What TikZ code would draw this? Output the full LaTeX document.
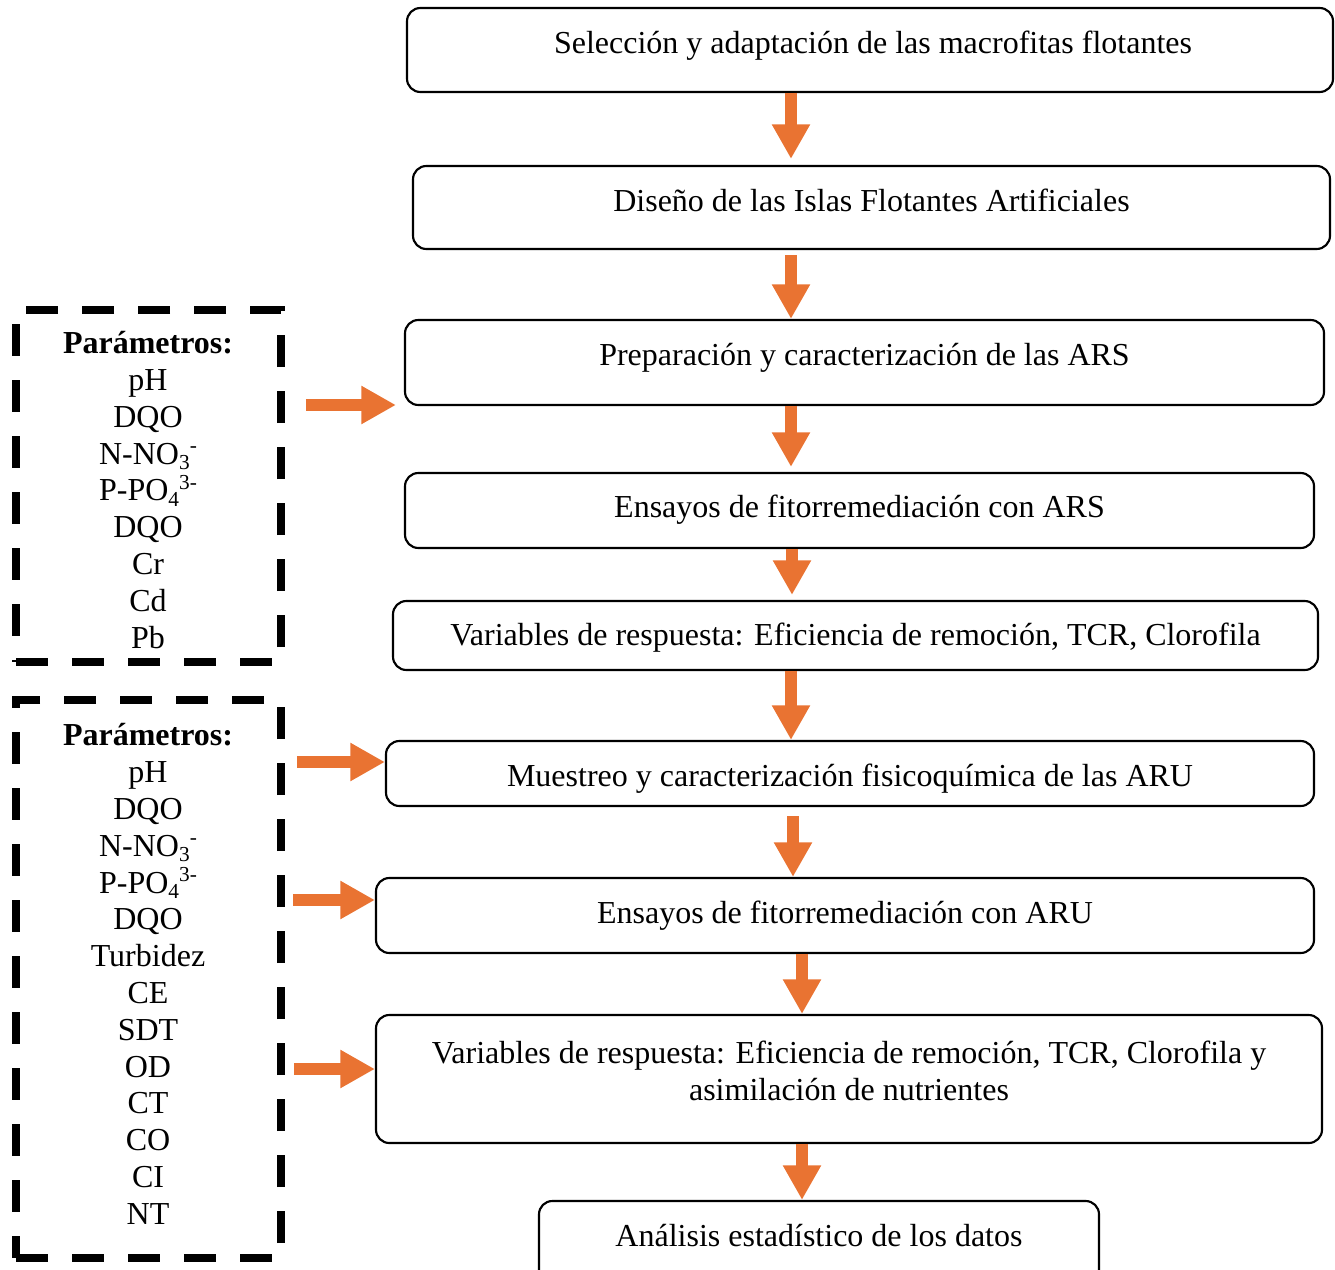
\documentclass[tikz,border=0pt]{standalone}
\usepackage{fontspec}
\setmainfont{Liberation Serif}
\usetikzlibrary{arrows.meta}
\definecolor{orng}{RGB}{233,115,50}
\newcommand\mysubs[1]{\raisebox{-0.16em}{\fontsize{16}{16}\selectfont #1}}
\newcommand\mysups[1]{\raisebox{0.36em}{\fontsize{16}{16}\selectfont #1}}
\tikzset{
  stepbox/.style={draw=black, line width=1.6pt, rounded corners=10pt, inner sep=0pt},
  steptext/.style={font=\fontsize{24}{27.6}\selectfont, inner sep=0pt, align=center},
  parbox/.style={draw=black, line width=5.8pt, dash pattern=on 24pt off 18pt, inner sep=0pt},
  partext/.style={font=\fontsize{24}{27.6}\selectfont, inner sep=0pt, align=center},
  oarrow/.style={draw=orng, line width=9pt, -{Triangle[width=27pt,length=26pt]}, orng},
}
\begin{document}
\begin{tikzpicture}[x=0.75pt, y=-0.75pt]
\useasboundingbox (0,0) rectangle (1335,1270);
\clip (0,0) rectangle (1335,1270);
% boxes
\node[stepbox, minimum width=694.5pt, minimum height=63pt] (b1) at (870,50) {};
\node[steptext] (t1) at (873,46) {Selección y adaptación de las macrofitas flotantes};
\node[stepbox, minimum width=687.75pt, minimum height=62.25pt] (b2) at (871.5,207.5) {};
\node[steptext] (t2) at (871.5,200) {Diseño de las Islas Flotantes Artificiales};
\node[stepbox, minimum width=689.25pt, minimum height=63.75pt] (b3) at (864.5,362.5) {};
\node[steptext] (t3) at (864.5,358) {Preparación y caracterización de las ARS};
\node[stepbox, minimum width=681.75pt, minimum height=56.25pt] (b4) at (859.5,510.5) {};
\node[steptext] (t4) at (859.5,510) {Ensayos de fitorremediación con ARS};
\node[stepbox, minimum width=693.75pt, minimum height=51.75pt] (b5) at (855.5,635.5) {};
\node[steptext] (t5) at (855.5,638) {Variables de respuesta: Eficiencia de remoción, TCR, Clorofila};
\node[stepbox, minimum width=696pt, minimum height=48.75pt] (b6) at (850,773.5) {};
\node[steptext] (t6) at (850,779) {Muestreo y caracterización fisicoquímica de las ARU};
\node[stepbox, minimum width=703.5pt, minimum height=56.25pt] (b7) at (845,915.5) {};
\node[steptext] (t7) at (845,916) {Ensayos de fitorremediación con ARU};
\node[stepbox, minimum width=709.5pt, minimum height=96pt] (b8) at (849,1079) {};
\node[steptext] (t8) at (849,1071) {Variables de respuesta: Eficiencia de remoción, TCR, Clorofila y\\asimilación de nutrientes};
\node[stepbox, minimum width=420pt, minimum height=66pt] (b9) at (819,1245) {};
\node[steptext] (t9) at (819,1236) {Análisis estadístico de los datos};
% parameter boxes
\node[parbox, minimum width=198.75pt, minimum height=264pt] (d1) at (148.5,486) {};
\node[partext] (p1) at (148,490) {\textbf{Parámetros:}\\pH\\DQO\\N-NO\mysubs{3}\mysups{-}\\P-PO\mysubs{4}\mysups{3-}\\DQO\\Cr\\Cd\\Pb};
\node[parbox, minimum width=198.75pt, minimum height=418.5pt] (d2) at (148.5,979) {};
\node[partext] (p2) at (148,974) {\textbf{Parámetros:}\\pH\\DQO\\N-NO\mysubs{3}\mysups{-}\\P-PO\mysubs{4}\mysups{3-}\\DQO\\Turbidez\\CE\\SDT\\OD\\CT\\CO\\CI\\NT};
% x positions of vertical arrows
\coordinate (xa) at (791,0);
\coordinate (xb) at (792,0);
\coordinate (xc) at (793,0);
\coordinate (xd) at (802,0);
\draw[oarrow, shorten >=4.5pt] (b1.south -| xa) -- (b2.north -| xa);
\draw[oarrow, shorten <=3.75pt] (b2.south -| xa) -- (b3.north -| xa);
\draw[oarrow, shorten >=3.75pt] (b3.south -| xa) -- (b4.north -| xa);
\draw[oarrow, shorten >=3.75pt] (b4.south -| xb) -- (b5.north -| xb);
\draw[oarrow] (b5.south -| xa) -- (b6.north -| xa);
\draw[oarrow, shorten <=6.75pt] (b6.south -| xc) -- (b7.north -| xc);
\draw[oarrow] (b7.south -| xd) -- (b8.north -| xd);
\draw[oarrow] (b8.south -| xd) -- (b9.north -| xd);
% horizontal arrows
\coordinate (ya) at (0,405);
\coordinate (yb) at (0,762);
\coordinate (yc) at (0,900);
\coordinate (yd) at (0,1069);
\draw[oarrow, shorten <=15.75pt, shorten >=6pt] (d1.east |- ya) -- (b3.west |- ya);
\draw[oarrow, shorten <=9pt, shorten >=0pt] (d2.east |- yb) -- (b6.west |- yb);
\draw[oarrow, shorten <=6pt, shorten >=0pt] (d2.east |- yc) -- (b7.west |- yc);
\draw[oarrow, shorten <=6.75pt, shorten >=0pt] (d2.east |- yd) -- (b8.west |- yd);
\end{tikzpicture}
\end{document}
